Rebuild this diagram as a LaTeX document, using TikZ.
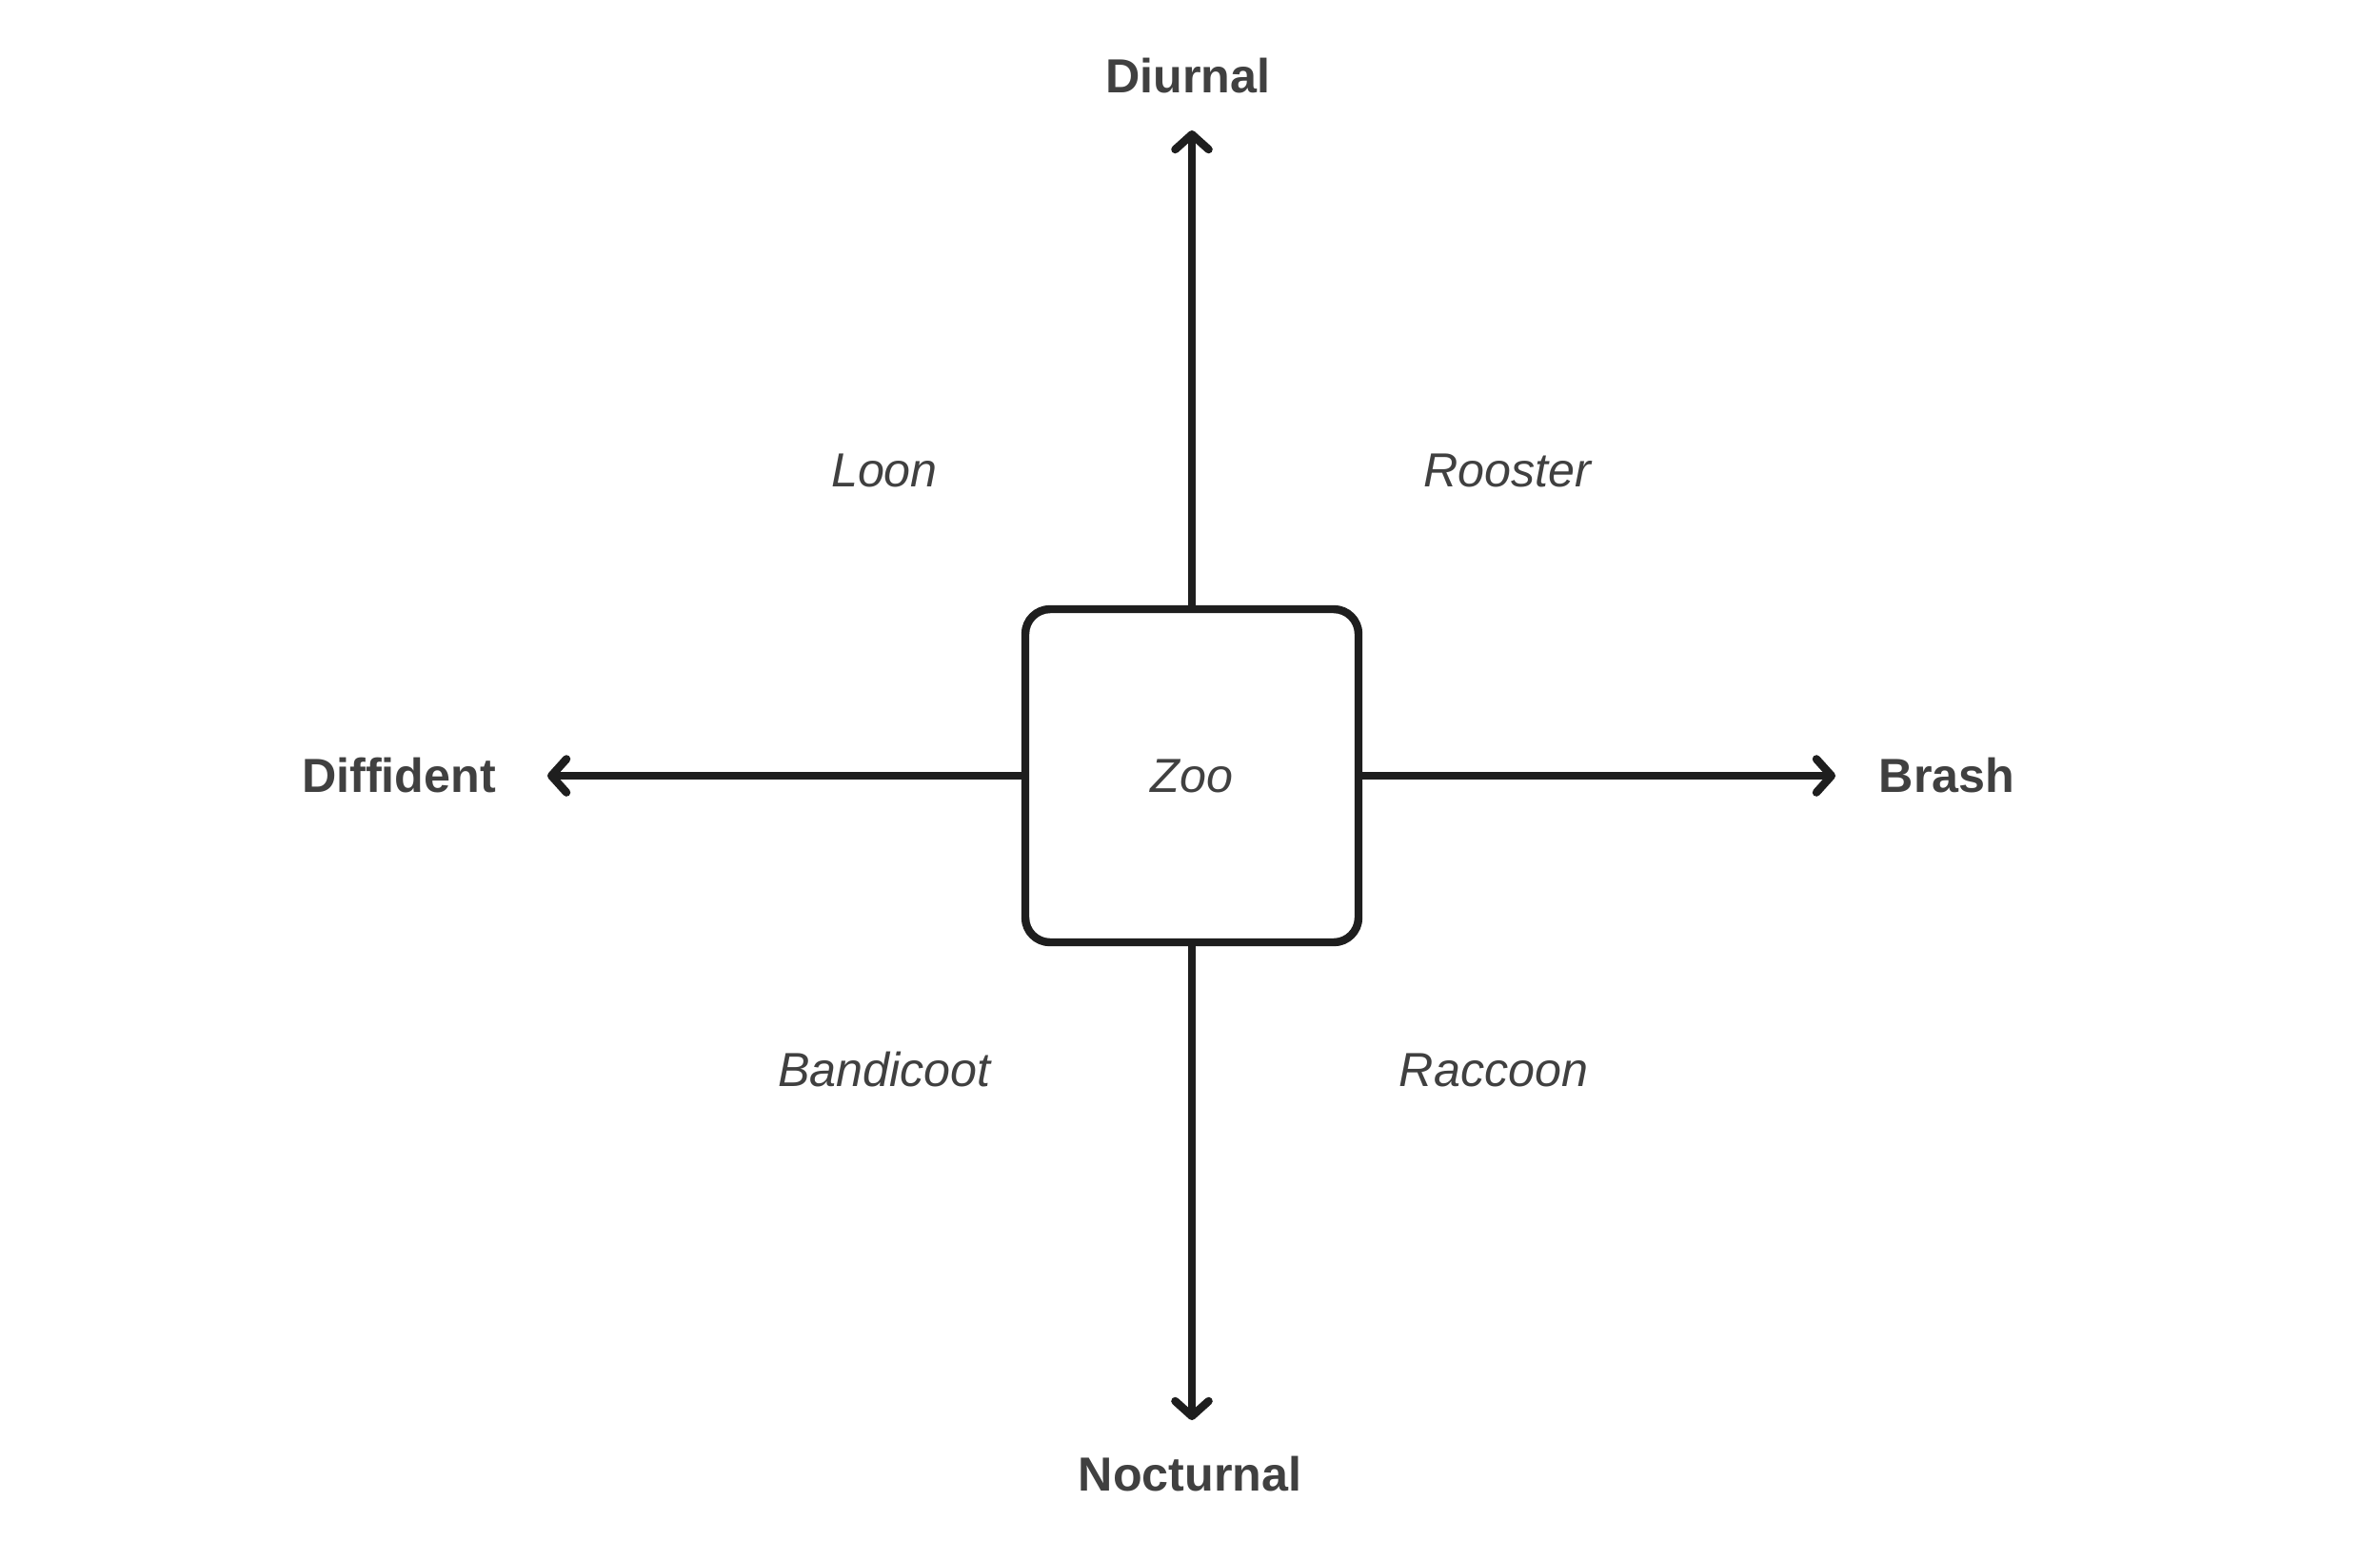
\documentclass[tikz,border=0pt]{standalone}
\usepackage{fontspec}
\setmainfont{Liberation Sans}
\usetikzlibrary{arrows.meta,positioning}
\definecolor{ink}{HTML}{1E1E1E}
\definecolor{txt}{HTML}{404040}
\begin{document}
\begin{tikzpicture}[font=\fontsize{14}{16}\selectfont,axis/.style={font=\bfseries\fontsize{14.3}{16}\selectfont,text=txt},quad/.style={font=\itshape\fontsize{14.3}{16}\selectfont,text=txt},arr/.style={-{Straight Barb[length=4.5pt,width=10pt,round]},line width=2.4pt,draw=ink},hub/.style={draw=ink,line width=2.4pt,rounded corners=0.26cm,minimum width=3.5cm,minimum height=3.5cm,fill=white}]
\useasboundingbox (0,0) rectangle (25,-16.18);
\node[hub,quad] (zoo) at (12.52,-8.15) {Zoo};
\coordinate (up) at (12.52,-1.37);\coordinate (down) at (12.52,-14.92);\coordinate (left) at (5.75,-8.15);\coordinate (right) at (19.28,-8.15);
\draw[arr] (zoo.north)--(up);\draw[arr] (zoo.south)--(down);\draw[arr] (zoo.west)--(left);\draw[arr] (zoo.east)--(right);
\node[axis] (diurnal) at (12.48,-0.80) {Diurnal};
\node[axis] (nocturnal) at (12.50,-15.48) {Nocturnal};
\node[axis] (diffident) at (4.19,-8.15) {Diffident};
\node[axis] (brash) at (20.45,-8.15) {Brash};
\node[quad] (loon) at (9.29,-4.94) {Loon};
\node[quad] (rooster) at (15.83,-4.94) {Rooster};
\node[quad] (bandicoot) at (9.29,-11.24) {Bandicoot};
\node[quad] (raccoon) at (15.69,-11.24) {Raccoon};
\end{tikzpicture}
\end{document}
